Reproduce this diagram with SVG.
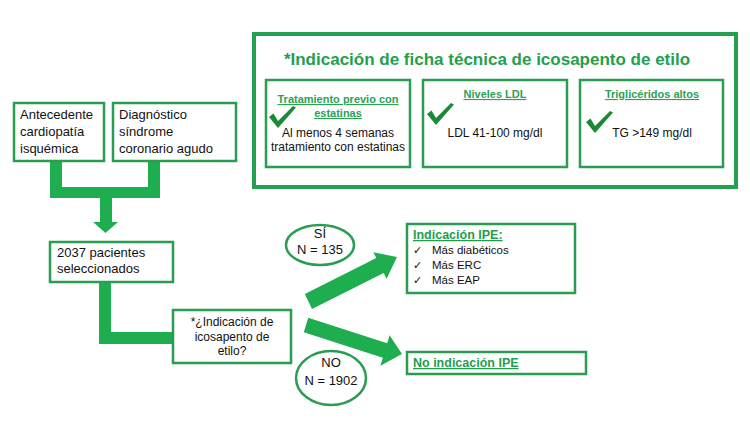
<svg xmlns="http://www.w3.org/2000/svg" width="750" height="422" viewBox="0 0 750 422">
<style>
text{font-family:"Liberation Sans",Arial,sans-serif;fill:#111}
.box{fill:#fff;stroke:#2a9d52;stroke-width:2.5}
.big{fill:#fff;stroke:#23a050;stroke-width:4}
.t13{font-size:13px}
.t12{font-size:12px}
.hd{font-weight:bold;font-size:11px;fill:#2aa356;text-decoration:underline}
.c{text-anchor:middle}
.flow{fill:#1fae4f}
.chk{fill:#1b8a36}
.tick{font-family:"DejaVu Sans",sans-serif;font-size:11px}
.li{font-size:11.5px}
.lbl{font-size:12.5px;font-weight:bold;fill:#1f9e4c;text-decoration:underline}
</style>
<defs>
<path id="check" d="M0,10 L4.5,6.5 L9,14 L24,-1 L27,0.5 L9,21 Z"/>
</defs>

<g id="criteria">
<rect class="big" x="254" y="34" width="482" height="153"/>
<text x="487" y="65" class="c" style="font-size:17px;fill:#1fa04e;font-weight:bold">*Indicación de ficha técnica de icosapento de etilo</text>
</g>

<g id="crit-statins">
<rect class="box" x="266" y="80" width="144" height="87"/>
<text x="338" y="103" class="hd c">Tratamiento previo con</text>
<text x="338" y="117" class="hd c">estatinas</text>
<use href="#check" x="269" y="107" class="chk"/>
<text x="338" y="137" class="t12 c">Al menos 4 semanas</text>
<text x="338" y="151" class="t12 c">tratamiento con estatinas</text>
</g>

<g id="crit-ldl">
<rect class="box" x="423" y="80" width="144" height="87"/>
<text x="495" y="98" class="hd c">Niveles LDL</text>
<use href="#check" x="427" y="104" class="chk"/>
<text x="495" y="137" class="t12 c">LDL 41-100 mg/dl</text>
</g>

<g id="crit-tg">
<rect class="box" x="580" y="80" width="143" height="87"/>
<text x="652" y="98" class="hd c">Triglicéridos altos</text>
<use href="#check" x="586" y="112" class="chk"/>
<text x="652" y="137" class="t12 c">TG &gt;149 mg/dl</text>
</g>

<g id="connectors">
<path class="flow" d="M50,161 H62 V187 H148 V161 H160 V198 H112 V222 H118 L105.5,233 L93,222 H100 V198 H50 Z"/>
<path class="flow" d="M99,282 H111 V332 H173 V344 H99 Z"/>
<polygon class="flow" points="304.8,294.1 376.3,258.1 373.4,252.3 397,257 386.6,278.7 383.7,272.9 312,309"/>
<polygon class="flow" points="308.2,317.8 387.2,343.3 389.6,335.2 402,354 380.4,365.8 382.8,357.7 303.8,332.2"/>
</g>

<g id="antecedente">
<rect class="box" x="14" y="103" width="90" height="58"/>
<text x="20" y="119" class="t13">Antecedente</text>
<text x="20" y="136" class="t13">cardiopatía</text>
<text x="20" y="153" class="t13">isquémica</text>
</g>

<g id="diagnostico">
<rect class="box" x="113" y="103" width="123" height="58"/>
<text x="119" y="119" class="t13">Diagnóstico</text>
<text x="119" y="136" class="t13">síndrome</text>
<text x="119" y="153" class="t13">coronario agudo</text>
</g>

<g id="pacientes">
<rect class="box" x="50" y="242" width="123" height="40"/>
<text x="57" y="257" class="t13">2037 pacientes</text>
<text x="57" y="273" class="t13">seleccionados</text>
</g>

<g id="pregunta">
<rect class="box" x="173" y="310" width="118" height="53"/>
<text x="232" y="326" class="t12 c">*¿Indicación de</text>
<text x="232" y="341" class="t12 c">icosapento de</text>
<text x="232" y="355" class="t12 c">etilo?</text>
</g>

<g id="si">
<ellipse class="box" cx="320" cy="245" rx="34" ry="20"/>
<text x="320" y="238" class="t13 c">SÍ</text>
<text x="320" y="254" class="t13 c">N = 135</text>
</g>

<g id="no">
<ellipse class="box" cx="331" cy="378" rx="35" ry="27"/>
<text x="331" y="367" class="t13 c">NO</text>
<text x="331" y="385" class="t13 c">N = 1902</text>
</g>

<g id="ipe">
<rect class="box" x="407" y="224" width="168" height="69"/>
<text x="413" y="239" class="lbl">Indicación IPE:</text>
<text x="413" y="254" class="tick">✓</text>
<text x="432" y="254" class="li">Más diabéticos</text>
<text x="413" y="269" class="tick">✓</text>
<text x="432" y="269" class="li">Más ERC</text>
<text x="413" y="284" class="tick">✓</text>
<text x="432" y="284" class="li">Más EAP</text>
</g>

<g id="no-ipe">
<rect class="box" x="407" y="352" width="179" height="22"/>
<text x="413" y="367" class="lbl">No indicación IPE</text>
</g>
</svg>
